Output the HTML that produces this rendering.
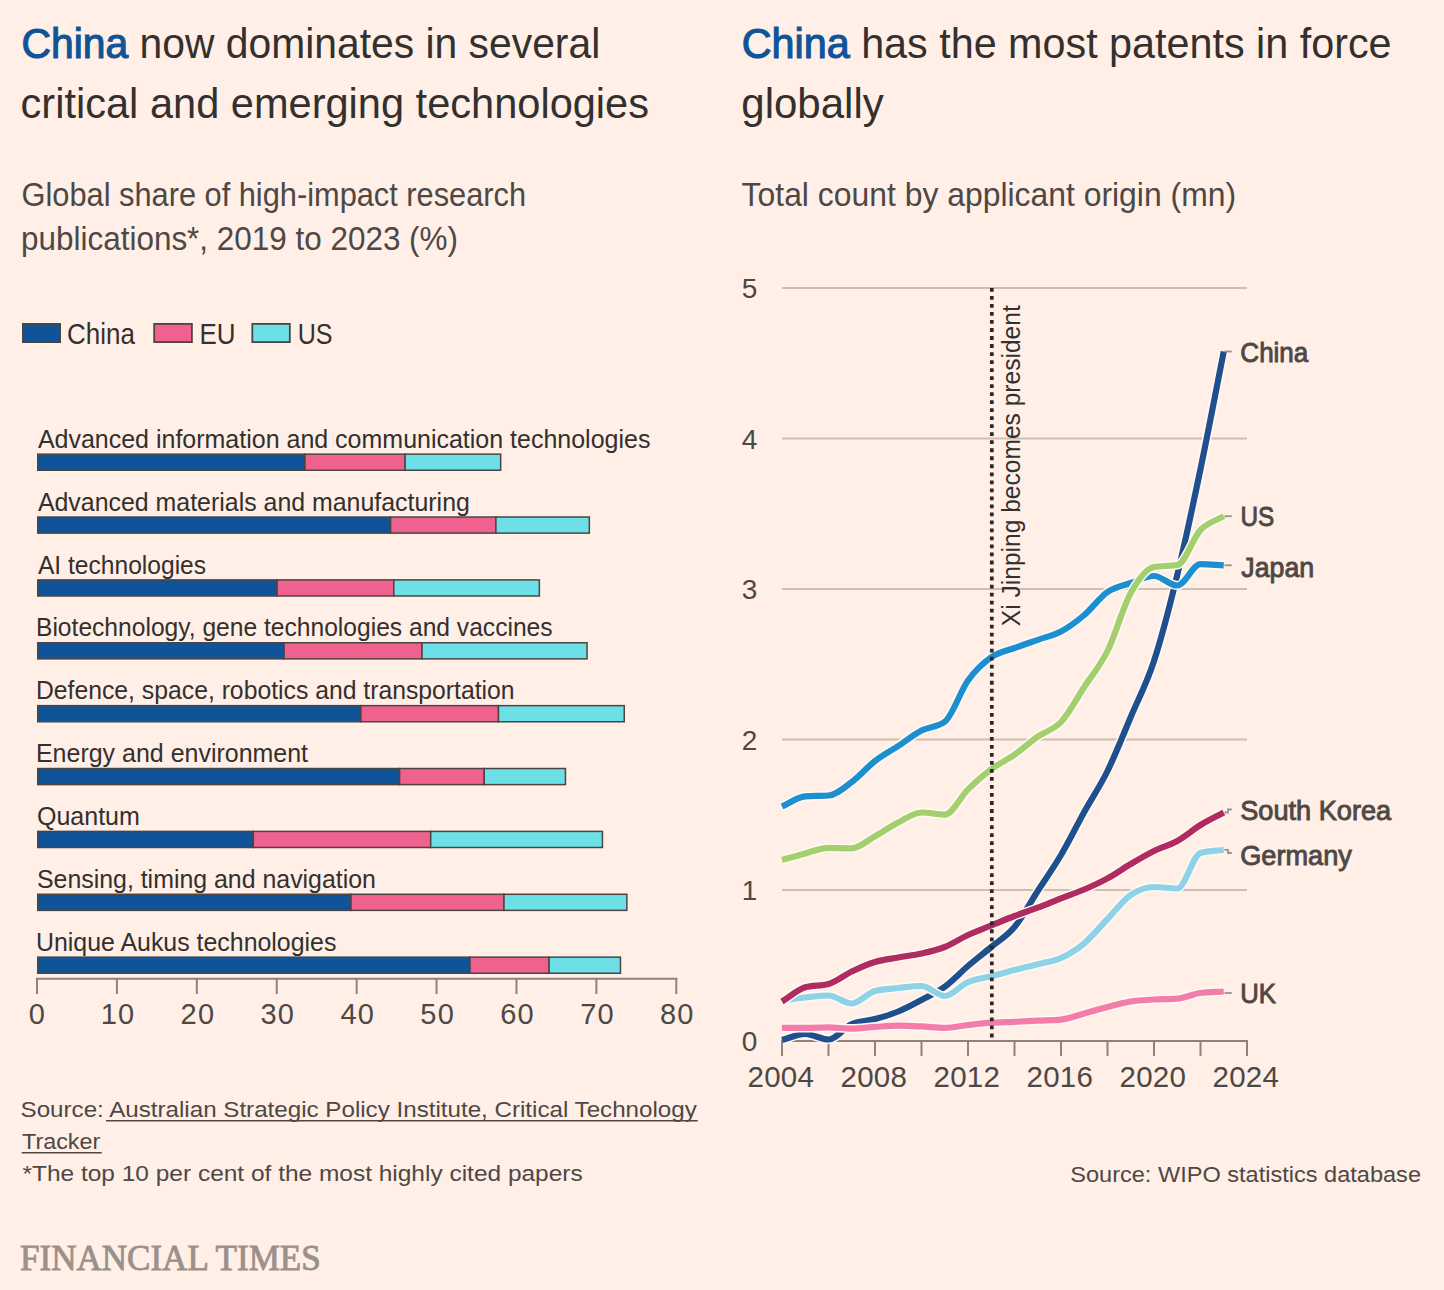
<!DOCTYPE html>
<html><head><meta charset="utf-8"><title>FT charts</title>
<style>html,body{margin:0;padding:0;background:#ffefe6;width:1444px;height:1290px;overflow:hidden}svg{display:block}</style>
</head><body>
<svg width="1444" height="1290" viewBox="0 0 1444 1290">
<rect width="1444" height="1290" fill="#ffefe6"/>
<text x="21.56" y="57.50" font-family='"Liberation Sans", sans-serif' font-size="43.4" font-weight="normal" textLength="578.67" lengthAdjust="spacingAndGlyphs" xml:space="preserve"><tspan fill="#0f5499" stroke="#0f5499" stroke-width="1.2">China</tspan><tspan fill="#33302e"> now dominates in several</tspan></text>
<text x="20.58" y="117.50" font-family='"Liberation Sans", sans-serif' font-size="43.4" font-weight="normal" textLength="628.43" lengthAdjust="spacingAndGlyphs" xml:space="preserve"><tspan fill="#33302e">critical and emerging technologies</tspan></text>
<text x="741.75" y="57.50" font-family='"Liberation Sans", sans-serif' font-size="43.4" font-weight="normal" textLength="649.77" lengthAdjust="spacingAndGlyphs" xml:space="preserve"><tspan fill="#0f5499" stroke="#0f5499" stroke-width="1.2">China</tspan><tspan fill="#33302e"> has the most patents in force</tspan></text>
<text x="741.26" y="117.50" font-family='"Liberation Sans", sans-serif' font-size="43.4" font-weight="normal" textLength="142.59" lengthAdjust="spacingAndGlyphs" xml:space="preserve"><tspan fill="#33302e">globally</tspan></text>
<text x="21.56" y="205.50" font-family='"Liberation Sans", sans-serif' font-size="32.6" font-weight="normal" textLength="504.51" lengthAdjust="spacingAndGlyphs" xml:space="preserve"><tspan fill="#4d4845">Global share of high-impact research</tspan></text>
<text x="21.07" y="249.50" font-family='"Liberation Sans", sans-serif' font-size="32.6" font-weight="normal" textLength="436.95" lengthAdjust="spacingAndGlyphs" xml:space="preserve"><tspan fill="#4d4845">publications*, 2019 to 2023 (%)</tspan></text>
<text x="741.62" y="205.50" font-family='"Liberation Sans", sans-serif' font-size="32.6" font-weight="normal" textLength="494.45" lengthAdjust="spacingAndGlyphs" xml:space="preserve"><tspan fill="#4d4845">Total count by applicant origin (mn)</tspan></text>
<rect x="22.90" y="323.90" width="37.20" height="18.20" fill="#0f5499" stroke="#4a4543" stroke-width="1.8"/>
<rect x="154.20" y="323.90" width="37.70" height="18.20" fill="#ef6290" stroke="#4a4543" stroke-width="1.8"/>
<rect x="252.30" y="323.90" width="37.50" height="18.20" fill="#6ddfe6" stroke="#4a4543" stroke-width="1.8"/>
<text x="67.11" y="343.70" font-family='"Liberation Sans", sans-serif' font-size="29" font-weight="normal" textLength="67.80" lengthAdjust="spacingAndGlyphs" xml:space="preserve"><tspan fill="#33302e">China</tspan></text>
<text x="199.51" y="343.70" font-family='"Liberation Sans", sans-serif' font-size="29" font-weight="normal" textLength="36.04" lengthAdjust="spacingAndGlyphs" xml:space="preserve"><tspan fill="#33302e">EU</tspan></text>
<text x="297.67" y="343.70" font-family='"Liberation Sans", sans-serif' font-size="29" font-weight="normal" textLength="34.85" lengthAdjust="spacingAndGlyphs" xml:space="preserve"><tspan fill="#33302e">US</tspan></text>
<text x="37.90" y="447.80" font-family='"Liberation Sans", sans-serif' font-size="25.8" font-weight="normal" textLength="612.49" lengthAdjust="spacingAndGlyphs" xml:space="preserve"><tspan fill="#33302e">Advanced information and communication technologies</tspan></text>
<text x="37.90" y="510.68" font-family='"Liberation Sans", sans-serif' font-size="25.8" font-weight="normal" textLength="431.96" lengthAdjust="spacingAndGlyphs" xml:space="preserve"><tspan fill="#33302e">Advanced materials and manufacturing</tspan></text>
<text x="37.90" y="573.55" font-family='"Liberation Sans", sans-serif' font-size="25.8" font-weight="normal" textLength="168.19" lengthAdjust="spacingAndGlyphs" xml:space="preserve"><tspan fill="#33302e">AI technologies</tspan></text>
<text x="35.99" y="636.42" font-family='"Liberation Sans", sans-serif' font-size="25.8" font-weight="normal" textLength="516.62" lengthAdjust="spacingAndGlyphs" xml:space="preserve"><tspan fill="#33302e">Biotechnology, gene technologies and vaccines</tspan></text>
<text x="35.98" y="699.30" font-family='"Liberation Sans", sans-serif' font-size="25.8" font-weight="normal" textLength="478.62" lengthAdjust="spacingAndGlyphs" xml:space="preserve"><tspan fill="#33302e">Defence, space, robotics and transportation</tspan></text>
<text x="35.96" y="762.17" font-family='"Liberation Sans", sans-serif' font-size="25.8" font-weight="normal" textLength="272.11" lengthAdjust="spacingAndGlyphs" xml:space="preserve"><tspan fill="#33302e">Energy and environment</tspan></text>
<text x="36.93" y="825.05" font-family='"Liberation Sans", sans-serif' font-size="25.8" font-weight="normal" textLength="102.96" lengthAdjust="spacingAndGlyphs" xml:space="preserve"><tspan fill="#33302e">Quantum</tspan></text>
<text x="36.94" y="887.92" font-family='"Liberation Sans", sans-serif' font-size="25.8" font-weight="normal" textLength="338.98" lengthAdjust="spacingAndGlyphs" xml:space="preserve"><tspan fill="#33302e">Sensing, timing and navigation</tspan></text>
<text x="35.97" y="950.80" font-family='"Liberation Sans", sans-serif' font-size="25.8" font-weight="normal" textLength="300.44" lengthAdjust="spacingAndGlyphs" xml:space="preserve"><tspan fill="#33302e">Unique Aukus technologies</tspan></text>
<rect x="37.75" y="454.15" width="267.25" height="16.10" fill="#0f5499" stroke="#4a4543" stroke-width="1.5"/>
<rect x="305.00" y="454.15" width="100.10" height="16.10" fill="#ef6290" stroke="#4a4543" stroke-width="1.5"/>
<rect x="405.10" y="454.15" width="95.55" height="16.10" fill="#6ddfe6" stroke="#4a4543" stroke-width="1.5"/>
<rect x="37.75" y="517.02" width="352.85" height="16.10" fill="#0f5499" stroke="#4a4543" stroke-width="1.5"/>
<rect x="390.60" y="517.02" width="105.30" height="16.10" fill="#ef6290" stroke="#4a4543" stroke-width="1.5"/>
<rect x="495.90" y="517.02" width="93.45" height="16.10" fill="#6ddfe6" stroke="#4a4543" stroke-width="1.5"/>
<rect x="37.75" y="579.90" width="239.35" height="16.10" fill="#0f5499" stroke="#4a4543" stroke-width="1.5"/>
<rect x="277.10" y="579.90" width="116.70" height="16.10" fill="#ef6290" stroke="#4a4543" stroke-width="1.5"/>
<rect x="393.80" y="579.90" width="145.55" height="16.10" fill="#6ddfe6" stroke="#4a4543" stroke-width="1.5"/>
<rect x="37.75" y="642.77" width="246.35" height="16.10" fill="#0f5499" stroke="#4a4543" stroke-width="1.5"/>
<rect x="284.10" y="642.77" width="137.90" height="16.10" fill="#ef6290" stroke="#4a4543" stroke-width="1.5"/>
<rect x="422.00" y="642.77" width="165.05" height="16.10" fill="#6ddfe6" stroke="#4a4543" stroke-width="1.5"/>
<rect x="37.75" y="705.65" width="323.15" height="16.10" fill="#0f5499" stroke="#4a4543" stroke-width="1.5"/>
<rect x="360.90" y="705.65" width="137.60" height="16.10" fill="#ef6290" stroke="#4a4543" stroke-width="1.5"/>
<rect x="498.50" y="705.65" width="125.75" height="16.10" fill="#6ddfe6" stroke="#4a4543" stroke-width="1.5"/>
<rect x="37.75" y="768.52" width="361.85" height="16.10" fill="#0f5499" stroke="#4a4543" stroke-width="1.5"/>
<rect x="399.60" y="768.52" width="84.60" height="16.10" fill="#ef6290" stroke="#4a4543" stroke-width="1.5"/>
<rect x="484.20" y="768.52" width="81.25" height="16.10" fill="#6ddfe6" stroke="#4a4543" stroke-width="1.5"/>
<rect x="37.75" y="831.40" width="215.55" height="16.10" fill="#0f5499" stroke="#4a4543" stroke-width="1.5"/>
<rect x="253.30" y="831.40" width="177.40" height="16.10" fill="#ef6290" stroke="#4a4543" stroke-width="1.5"/>
<rect x="430.70" y="831.40" width="171.75" height="16.10" fill="#6ddfe6" stroke="#4a4543" stroke-width="1.5"/>
<rect x="37.75" y="894.27" width="313.25" height="16.10" fill="#0f5499" stroke="#4a4543" stroke-width="1.5"/>
<rect x="351.00" y="894.27" width="153.00" height="16.10" fill="#ef6290" stroke="#4a4543" stroke-width="1.5"/>
<rect x="504.00" y="894.27" width="122.85" height="16.10" fill="#6ddfe6" stroke="#4a4543" stroke-width="1.5"/>
<rect x="37.75" y="957.15" width="432.25" height="16.10" fill="#0f5499" stroke="#4a4543" stroke-width="1.5"/>
<rect x="470.00" y="957.15" width="79.10" height="16.10" fill="#ef6290" stroke="#4a4543" stroke-width="1.5"/>
<rect x="549.10" y="957.15" width="71.35" height="16.10" fill="#6ddfe6" stroke="#4a4543" stroke-width="1.5"/>
<line x1="36" y1="978.8" x2="677.3" y2="978.8" stroke="#8f8278" stroke-width="2"/>
<line x1="37.00" y1="978" x2="37.00" y2="994" stroke="#8f8278" stroke-width="2"/>
<text x="37.50" y="1024.3" font-family='"Liberation Sans", sans-serif' font-size="29" letter-spacing="1.2" fill="#4d4845" text-anchor="middle">0</text>
<line x1="116.91" y1="978" x2="116.91" y2="994" stroke="#8f8278" stroke-width="2"/>
<text x="118.01" y="1024.3" font-family='"Liberation Sans", sans-serif' font-size="29" letter-spacing="1.2" fill="#4d4845" text-anchor="middle">10</text>
<line x1="196.82" y1="978" x2="196.82" y2="994" stroke="#8f8278" stroke-width="2"/>
<text x="197.92" y="1024.3" font-family='"Liberation Sans", sans-serif' font-size="29" letter-spacing="1.2" fill="#4d4845" text-anchor="middle">20</text>
<line x1="276.73" y1="978" x2="276.73" y2="994" stroke="#8f8278" stroke-width="2"/>
<text x="277.83" y="1024.3" font-family='"Liberation Sans", sans-serif' font-size="29" letter-spacing="1.2" fill="#4d4845" text-anchor="middle">30</text>
<line x1="356.64" y1="978" x2="356.64" y2="994" stroke="#8f8278" stroke-width="2"/>
<text x="357.74" y="1024.3" font-family='"Liberation Sans", sans-serif' font-size="29" letter-spacing="1.2" fill="#4d4845" text-anchor="middle">40</text>
<line x1="436.55" y1="978" x2="436.55" y2="994" stroke="#8f8278" stroke-width="2"/>
<text x="437.65" y="1024.3" font-family='"Liberation Sans", sans-serif' font-size="29" letter-spacing="1.2" fill="#4d4845" text-anchor="middle">50</text>
<line x1="516.46" y1="978" x2="516.46" y2="994" stroke="#8f8278" stroke-width="2"/>
<text x="517.56" y="1024.3" font-family='"Liberation Sans", sans-serif' font-size="29" letter-spacing="1.2" fill="#4d4845" text-anchor="middle">60</text>
<line x1="596.37" y1="978" x2="596.37" y2="994" stroke="#8f8278" stroke-width="2"/>
<text x="597.47" y="1024.3" font-family='"Liberation Sans", sans-serif' font-size="29" letter-spacing="1.2" fill="#4d4845" text-anchor="middle">70</text>
<line x1="676.28" y1="978" x2="676.28" y2="994" stroke="#8f8278" stroke-width="2"/>
<text x="677.38" y="1024.3" font-family='"Liberation Sans", sans-serif' font-size="29" letter-spacing="1.2" fill="#4d4845" text-anchor="middle">80</text>
<line x1="782" y1="288.0" x2="1247" y2="288.0" stroke="#cdbfb4" stroke-width="2"/>
<line x1="782" y1="438.5" x2="1247" y2="438.5" stroke="#cdbfb4" stroke-width="2"/>
<line x1="782" y1="589.0" x2="1247" y2="589.0" stroke="#cdbfb4" stroke-width="2"/>
<line x1="782" y1="739.5" x2="1247" y2="739.5" stroke="#cdbfb4" stroke-width="2"/>
<line x1="782" y1="890.0" x2="1247" y2="890.0" stroke="#cdbfb4" stroke-width="2"/>
<text x="741.8" y="298.3" font-family='"Liberation Sans", sans-serif' font-size="28" fill="#4d4845">5</text>
<text x="741.8" y="448.8" font-family='"Liberation Sans", sans-serif' font-size="28" fill="#4d4845">4</text>
<text x="741.8" y="599.3" font-family='"Liberation Sans", sans-serif' font-size="28" fill="#4d4845">3</text>
<text x="741.8" y="749.8" font-family='"Liberation Sans", sans-serif' font-size="28" fill="#4d4845">2</text>
<text x="741.8" y="900.3" font-family='"Liberation Sans", sans-serif' font-size="28" fill="#4d4845">1</text>
<text x="741.8" y="1051.3" font-family='"Liberation Sans", sans-serif' font-size="28" fill="#4d4845">0</text>
<line x1="781" y1="1041" x2="1248" y2="1041" stroke="#8f8278" stroke-width="2"/>
<line x1="782.00" y1="1040" x2="782.00" y2="1056" stroke="#8f8278" stroke-width="2"/>
<line x1="828.50" y1="1040" x2="828.50" y2="1056" stroke="#8f8278" stroke-width="2"/>
<line x1="875.00" y1="1040" x2="875.00" y2="1056" stroke="#8f8278" stroke-width="2"/>
<line x1="921.50" y1="1040" x2="921.50" y2="1056" stroke="#8f8278" stroke-width="2"/>
<line x1="968.00" y1="1040" x2="968.00" y2="1056" stroke="#8f8278" stroke-width="2"/>
<line x1="1014.50" y1="1040" x2="1014.50" y2="1056" stroke="#8f8278" stroke-width="2"/>
<line x1="1061.00" y1="1040" x2="1061.00" y2="1056" stroke="#8f8278" stroke-width="2"/>
<line x1="1107.50" y1="1040" x2="1107.50" y2="1056" stroke="#8f8278" stroke-width="2"/>
<line x1="1154.00" y1="1040" x2="1154.00" y2="1056" stroke="#8f8278" stroke-width="2"/>
<line x1="1200.50" y1="1040" x2="1200.50" y2="1056" stroke="#8f8278" stroke-width="2"/>
<line x1="1247.00" y1="1040" x2="1247.00" y2="1056" stroke="#8f8278" stroke-width="2"/>
<text x="780.80" y="1086.8" font-family='"Liberation Sans", sans-serif' font-size="29.5" letter-spacing="0.2" fill="#4d4845" text-anchor="middle">2004</text>
<text x="873.80" y="1086.8" font-family='"Liberation Sans", sans-serif' font-size="29.5" letter-spacing="0.2" fill="#4d4845" text-anchor="middle">2008</text>
<text x="966.80" y="1086.8" font-family='"Liberation Sans", sans-serif' font-size="29.5" letter-spacing="0.2" fill="#4d4845" text-anchor="middle">2012</text>
<text x="1059.80" y="1086.8" font-family='"Liberation Sans", sans-serif' font-size="29.5" letter-spacing="0.2" fill="#4d4845" text-anchor="middle">2016</text>
<text x="1152.80" y="1086.8" font-family='"Liberation Sans", sans-serif' font-size="29.5" letter-spacing="0.2" fill="#4d4845" text-anchor="middle">2020</text>
<text x="1245.80" y="1086.8" font-family='"Liberation Sans", sans-serif' font-size="29.5" letter-spacing="0.2" fill="#4d4845" text-anchor="middle">2024</text>
<path d="M782.00,1040.00C789.75,1038.00 797.50,1034.00 805.25,1034.00C813.00,1034.00 820.75,1039.50 828.50,1039.50C836.25,1039.50 844.00,1027.33 851.75,1024.00C859.50,1020.67 867.25,1021.08 875.00,1019.00C882.75,1016.92 890.50,1014.67 898.25,1011.50C906.00,1008.33 913.75,1004.13 921.50,1000.00C929.25,995.87 937.00,992.37 944.75,986.70C952.50,981.03 960.25,972.62 968.00,966.00C975.75,959.38 983.50,953.50 991.25,947.00C999.00,940.50 1006.75,936.33 1014.50,927.00C1022.25,917.67 1030.00,903.00 1037.75,891.00C1045.50,879.00 1053.25,868.17 1061.00,855.00C1068.75,841.83 1076.50,826.00 1084.25,812.00C1092.00,798.00 1099.75,786.83 1107.50,771.00C1115.25,755.17 1123.00,735.33 1130.75,717.00C1138.50,698.67 1146.25,684.67 1154.00,661.00C1161.75,637.33 1169.50,607.00 1177.25,575.00C1185.00,543.00 1192.75,506.25 1200.50,469.00C1208.25,431.75 1216.00,390.67 1223.75,351.50" fill="none" stroke="#fffaf4" stroke-width="9.2" stroke-linejoin="round"/>
<path d="M782.00,1040.00C789.75,1038.00 797.50,1034.00 805.25,1034.00C813.00,1034.00 820.75,1039.50 828.50,1039.50C836.25,1039.50 844.00,1027.33 851.75,1024.00C859.50,1020.67 867.25,1021.08 875.00,1019.00C882.75,1016.92 890.50,1014.67 898.25,1011.50C906.00,1008.33 913.75,1004.13 921.50,1000.00C929.25,995.87 937.00,992.37 944.75,986.70C952.50,981.03 960.25,972.62 968.00,966.00C975.75,959.38 983.50,953.50 991.25,947.00C999.00,940.50 1006.75,936.33 1014.50,927.00C1022.25,917.67 1030.00,903.00 1037.75,891.00C1045.50,879.00 1053.25,868.17 1061.00,855.00C1068.75,841.83 1076.50,826.00 1084.25,812.00C1092.00,798.00 1099.75,786.83 1107.50,771.00C1115.25,755.17 1123.00,735.33 1130.75,717.00C1138.50,698.67 1146.25,684.67 1154.00,661.00C1161.75,637.33 1169.50,607.00 1177.25,575.00C1185.00,543.00 1192.75,506.25 1200.50,469.00C1208.25,431.75 1216.00,390.67 1223.75,351.50" fill="none" stroke="#1f4f8c" stroke-width="6.2" stroke-linejoin="round"/>
<path d="M782.00,806.50C789.75,803.10 797.50,796.83 805.25,796.30C813.00,795.77 820.75,796.03 828.50,795.50C836.25,794.97 844.00,787.75 851.75,782.00C859.50,776.25 867.25,767.00 875.00,761.00C882.75,755.00 890.50,751.08 898.25,746.00C906.00,740.92 913.75,734.53 921.50,730.50C929.25,726.47 937.00,727.60 944.75,721.80C952.50,716.00 960.25,691.25 968.00,680.50C975.75,669.75 983.50,662.72 991.25,657.30C999.00,651.88 1006.75,650.92 1014.50,648.00C1022.25,645.08 1030.00,642.55 1037.75,639.80C1045.50,637.05 1053.25,635.63 1061.00,631.50C1068.75,627.37 1076.50,621.58 1084.25,615.00C1092.00,608.42 1099.75,597.33 1107.50,592.00C1115.25,586.67 1123.00,585.67 1130.75,583.00C1138.50,580.33 1146.25,576.00 1154.00,576.00C1161.75,576.00 1169.50,585.50 1177.25,585.50C1185.00,585.50 1192.75,564.20 1200.50,564.20C1208.25,564.20 1216.00,564.93 1223.75,565.30" fill="none" stroke="#fffaf4" stroke-width="9.2" stroke-linejoin="round"/>
<path d="M782.00,806.50C789.75,803.10 797.50,796.83 805.25,796.30C813.00,795.77 820.75,796.03 828.50,795.50C836.25,794.97 844.00,787.75 851.75,782.00C859.50,776.25 867.25,767.00 875.00,761.00C882.75,755.00 890.50,751.08 898.25,746.00C906.00,740.92 913.75,734.53 921.50,730.50C929.25,726.47 937.00,727.60 944.75,721.80C952.50,716.00 960.25,691.25 968.00,680.50C975.75,669.75 983.50,662.72 991.25,657.30C999.00,651.88 1006.75,650.92 1014.50,648.00C1022.25,645.08 1030.00,642.55 1037.75,639.80C1045.50,637.05 1053.25,635.63 1061.00,631.50C1068.75,627.37 1076.50,621.58 1084.25,615.00C1092.00,608.42 1099.75,597.33 1107.50,592.00C1115.25,586.67 1123.00,585.67 1130.75,583.00C1138.50,580.33 1146.25,576.00 1154.00,576.00C1161.75,576.00 1169.50,585.50 1177.25,585.50C1185.00,585.50 1192.75,564.20 1200.50,564.20C1208.25,564.20 1216.00,564.93 1223.75,565.30" fill="none" stroke="#1d8fd1" stroke-width="6.2" stroke-linejoin="round"/>
<path d="M782.00,860.00C789.75,857.80 797.50,855.43 805.25,853.40C813.00,851.37 820.75,847.80 828.50,847.80C836.25,847.80 844.00,848.30 851.75,848.30C859.50,848.30 867.25,840.50 875.00,836.20C882.75,831.90 890.50,826.45 898.25,822.50C906.00,818.55 913.75,812.50 921.50,812.50C929.25,812.50 937.00,814.60 944.75,814.60C952.50,814.60 960.25,796.97 968.00,789.40C975.75,781.83 983.50,774.98 991.25,769.20C999.00,763.42 1006.75,760.13 1014.50,754.70C1022.25,749.27 1030.00,742.05 1037.75,736.60C1045.50,731.15 1053.25,730.27 1061.00,722.00C1068.75,713.73 1076.50,698.83 1084.25,687.00C1092.00,675.17 1099.75,666.67 1107.50,651.00C1115.25,635.33 1123.00,607.00 1130.75,593.00C1138.50,579.00 1146.25,568.33 1154.00,567.00C1161.75,565.67 1169.50,566.33 1177.25,565.00C1185.00,563.67 1192.75,538.13 1200.50,530.00C1208.25,521.87 1216.00,520.80 1223.75,516.20" fill="none" stroke="#fffaf4" stroke-width="9.2" stroke-linejoin="round"/>
<path d="M782.00,860.00C789.75,857.80 797.50,855.43 805.25,853.40C813.00,851.37 820.75,847.80 828.50,847.80C836.25,847.80 844.00,848.30 851.75,848.30C859.50,848.30 867.25,840.50 875.00,836.20C882.75,831.90 890.50,826.45 898.25,822.50C906.00,818.55 913.75,812.50 921.50,812.50C929.25,812.50 937.00,814.60 944.75,814.60C952.50,814.60 960.25,796.97 968.00,789.40C975.75,781.83 983.50,774.98 991.25,769.20C999.00,763.42 1006.75,760.13 1014.50,754.70C1022.25,749.27 1030.00,742.05 1037.75,736.60C1045.50,731.15 1053.25,730.27 1061.00,722.00C1068.75,713.73 1076.50,698.83 1084.25,687.00C1092.00,675.17 1099.75,666.67 1107.50,651.00C1115.25,635.33 1123.00,607.00 1130.75,593.00C1138.50,579.00 1146.25,568.33 1154.00,567.00C1161.75,565.67 1169.50,566.33 1177.25,565.00C1185.00,563.67 1192.75,538.13 1200.50,530.00C1208.25,521.87 1216.00,520.80 1223.75,516.20" fill="none" stroke="#a4cf6e" stroke-width="6.2" stroke-linejoin="round"/>
<path d="M782.00,1000.50C789.75,999.50 797.50,998.33 805.25,997.50C813.00,996.67 820.75,995.50 828.50,995.50C836.25,995.50 844.00,1003.50 851.75,1003.50C859.50,1003.50 867.25,993.00 875.00,991.00C882.75,989.00 890.50,988.83 898.25,988.00C906.00,987.17 913.75,986.00 921.50,986.00C929.25,986.00 937.00,996.00 944.75,996.00C952.50,996.00 960.25,985.48 968.00,982.20C975.75,978.92 983.50,978.33 991.25,976.30C999.00,974.27 1006.75,972.02 1014.50,970.00C1022.25,967.98 1030.00,966.20 1037.75,964.20C1045.50,962.20 1053.25,961.48 1061.00,958.00C1068.75,954.52 1076.50,949.80 1084.25,943.30C1092.00,936.80 1099.75,927.05 1107.50,919.00C1115.25,910.95 1123.00,900.33 1130.75,895.00C1138.50,889.67 1146.25,887.00 1154.00,887.00C1161.75,887.00 1169.50,888.50 1177.25,888.50C1185.00,888.50 1192.75,855.13 1200.50,853.00C1208.25,850.87 1216.00,850.87 1223.75,849.80" fill="none" stroke="#fffaf4" stroke-width="9.2" stroke-linejoin="round"/>
<path d="M782.00,1000.50C789.75,999.50 797.50,998.33 805.25,997.50C813.00,996.67 820.75,995.50 828.50,995.50C836.25,995.50 844.00,1003.50 851.75,1003.50C859.50,1003.50 867.25,993.00 875.00,991.00C882.75,989.00 890.50,988.83 898.25,988.00C906.00,987.17 913.75,986.00 921.50,986.00C929.25,986.00 937.00,996.00 944.75,996.00C952.50,996.00 960.25,985.48 968.00,982.20C975.75,978.92 983.50,978.33 991.25,976.30C999.00,974.27 1006.75,972.02 1014.50,970.00C1022.25,967.98 1030.00,966.20 1037.75,964.20C1045.50,962.20 1053.25,961.48 1061.00,958.00C1068.75,954.52 1076.50,949.80 1084.25,943.30C1092.00,936.80 1099.75,927.05 1107.50,919.00C1115.25,910.95 1123.00,900.33 1130.75,895.00C1138.50,889.67 1146.25,887.00 1154.00,887.00C1161.75,887.00 1169.50,888.50 1177.25,888.50C1185.00,888.50 1192.75,855.13 1200.50,853.00C1208.25,850.87 1216.00,850.87 1223.75,849.80" fill="none" stroke="#8dd2e6" stroke-width="6.2" stroke-linejoin="round"/>
<path d="M782.00,1001.50C789.75,996.77 797.50,989.50 805.25,987.30C813.00,985.10 820.75,986.20 828.50,984.00C836.25,981.80 844.00,975.17 851.75,971.50C859.50,967.83 867.25,964.33 875.00,962.00C882.75,959.67 890.50,958.92 898.25,957.50C906.00,956.08 913.75,955.25 921.50,953.50C929.25,951.75 937.00,950.08 944.75,947.00C952.50,943.92 960.25,938.58 968.00,935.00C975.75,931.42 983.50,928.67 991.25,925.50C999.00,922.33 1006.75,918.97 1014.50,916.00C1022.25,913.03 1030.00,910.65 1037.75,907.70C1045.50,904.75 1053.25,901.33 1061.00,898.30C1068.75,895.27 1076.50,892.82 1084.25,889.50C1092.00,886.18 1099.75,882.65 1107.50,878.40C1115.25,874.15 1123.00,868.57 1130.75,864.00C1138.50,859.43 1146.25,854.83 1154.00,851.00C1161.75,847.17 1169.50,845.33 1177.25,841.00C1185.00,836.67 1192.75,829.75 1200.50,825.00C1208.25,820.25 1216.00,816.67 1223.75,812.50" fill="none" stroke="#fffaf4" stroke-width="9.2" stroke-linejoin="round"/>
<path d="M782.00,1001.50C789.75,996.77 797.50,989.50 805.25,987.30C813.00,985.10 820.75,986.20 828.50,984.00C836.25,981.80 844.00,975.17 851.75,971.50C859.50,967.83 867.25,964.33 875.00,962.00C882.75,959.67 890.50,958.92 898.25,957.50C906.00,956.08 913.75,955.25 921.50,953.50C929.25,951.75 937.00,950.08 944.75,947.00C952.50,943.92 960.25,938.58 968.00,935.00C975.75,931.42 983.50,928.67 991.25,925.50C999.00,922.33 1006.75,918.97 1014.50,916.00C1022.25,913.03 1030.00,910.65 1037.75,907.70C1045.50,904.75 1053.25,901.33 1061.00,898.30C1068.75,895.27 1076.50,892.82 1084.25,889.50C1092.00,886.18 1099.75,882.65 1107.50,878.40C1115.25,874.15 1123.00,868.57 1130.75,864.00C1138.50,859.43 1146.25,854.83 1154.00,851.00C1161.75,847.17 1169.50,845.33 1177.25,841.00C1185.00,836.67 1192.75,829.75 1200.50,825.00C1208.25,820.25 1216.00,816.67 1223.75,812.50" fill="none" stroke="#b02b5f" stroke-width="6.2" stroke-linejoin="round"/>
<path d="M782.00,1027.80C789.75,1027.80 797.50,1027.80 805.25,1027.80C813.00,1027.80 820.75,1027.30 828.50,1027.30C836.25,1027.30 844.00,1028.70 851.75,1028.70C859.50,1028.70 867.25,1027.42 875.00,1026.90C882.75,1026.38 890.50,1025.60 898.25,1025.60C906.00,1025.60 913.75,1026.02 921.50,1026.40C929.25,1026.78 937.00,1027.90 944.75,1027.90C952.50,1027.90 960.25,1025.87 968.00,1025.00C975.75,1024.13 983.50,1023.23 991.25,1022.70C999.00,1022.17 1006.75,1022.13 1014.50,1021.80C1022.25,1021.47 1030.00,1021.05 1037.75,1020.70C1045.50,1020.35 1053.25,1020.37 1061.00,1019.70C1068.75,1019.03 1076.50,1015.62 1084.25,1013.50C1092.00,1011.38 1099.75,1009.00 1107.50,1007.00C1115.25,1005.00 1123.00,1002.75 1130.75,1001.50C1138.50,1000.25 1146.25,999.98 1154.00,999.50C1161.75,999.02 1169.50,999.20 1177.25,998.60C1185.00,998.00 1192.75,994.00 1200.50,993.00C1208.25,992.00 1216.00,992.00 1223.75,991.50" fill="none" stroke="#fffaf4" stroke-width="9.2" stroke-linejoin="round"/>
<path d="M782.00,1027.80C789.75,1027.80 797.50,1027.80 805.25,1027.80C813.00,1027.80 820.75,1027.30 828.50,1027.30C836.25,1027.30 844.00,1028.70 851.75,1028.70C859.50,1028.70 867.25,1027.42 875.00,1026.90C882.75,1026.38 890.50,1025.60 898.25,1025.60C906.00,1025.60 913.75,1026.02 921.50,1026.40C929.25,1026.78 937.00,1027.90 944.75,1027.90C952.50,1027.90 960.25,1025.87 968.00,1025.00C975.75,1024.13 983.50,1023.23 991.25,1022.70C999.00,1022.17 1006.75,1022.13 1014.50,1021.80C1022.25,1021.47 1030.00,1021.05 1037.75,1020.70C1045.50,1020.35 1053.25,1020.37 1061.00,1019.70C1068.75,1019.03 1076.50,1015.62 1084.25,1013.50C1092.00,1011.38 1099.75,1009.00 1107.50,1007.00C1115.25,1005.00 1123.00,1002.75 1130.75,1001.50C1138.50,1000.25 1146.25,999.98 1154.00,999.50C1161.75,999.02 1169.50,999.20 1177.25,998.60C1185.00,998.00 1192.75,994.00 1200.50,993.00C1208.25,992.00 1216.00,992.00 1223.75,991.50" fill="none" stroke="#f47ca8" stroke-width="6.2" stroke-linejoin="round"/>
<path d="M1224.5,351.5 H1228 V351.5 H1231.8" fill="none" stroke="#9a938d" stroke-width="1.8"/>
<path d="M1224.5,516.2 H1228 V516.2 H1231.8" fill="none" stroke="#9a938d" stroke-width="1.8"/>
<path d="M1224.5,565.3 H1228 V565.3 H1231.8" fill="none" stroke="#9a938d" stroke-width="1.8"/>
<path d="M1224.5,812.5 H1228 V809.5 H1231.8" fill="none" stroke="#9a938d" stroke-width="1.8"/>
<path d="M1224.5,849.8 H1228 V853.0 H1231.8" fill="none" stroke="#9a938d" stroke-width="1.8"/>
<path d="M1224.5,993.0 H1228 V993.0 H1231.8" fill="none" stroke="#9a938d" stroke-width="1.8"/>
<line x1="991.8" y1="288" x2="991.8" y2="1041" stroke="#2b2826" stroke-width="3.7" stroke-dasharray="3.8 4.217"/>
<text transform="rotate(-90)" x="-626.13" y="1020.30" font-family='"Liberation Sans", sans-serif' font-size="26.4" font-weight="normal" textLength="320.90" lengthAdjust="spacingAndGlyphs" xml:space="preserve"><tspan fill="#33302e">Xi Jinping becomes president</tspan></text>
<text x="1240.35" y="361.60" font-family='"Liberation Sans", sans-serif' font-size="27.5" font-weight="normal" textLength="67.97" lengthAdjust="spacingAndGlyphs" xml:space="preserve"><tspan fill="#4d4845" stroke="#4d4845" stroke-width="0.9">China</tspan></text>
<text x="1240.42" y="526.20" font-family='"Liberation Sans", sans-serif' font-size="27.5" font-weight="normal" textLength="33.76" lengthAdjust="spacingAndGlyphs" xml:space="preserve"><tspan fill="#4d4845" stroke="#4d4845" stroke-width="0.9">US</tspan></text>
<text x="1241.30" y="576.60" font-family='"Liberation Sans", sans-serif' font-size="27.5" font-weight="normal" textLength="72.81" lengthAdjust="spacingAndGlyphs" xml:space="preserve"><tspan fill="#4d4845" stroke="#4d4845" stroke-width="0.9">Japan</tspan></text>
<text x="1240.21" y="819.80" font-family='"Liberation Sans", sans-serif' font-size="27.5" font-weight="normal" textLength="150.99" lengthAdjust="spacingAndGlyphs" xml:space="preserve"><tspan fill="#4d4845" stroke="#4d4845" stroke-width="0.9">South Korea</tspan></text>
<text x="1240.21" y="864.50" font-family='"Liberation Sans", sans-serif' font-size="27.5" font-weight="normal" textLength="111.69" lengthAdjust="spacingAndGlyphs" xml:space="preserve"><tspan fill="#4d4845" stroke="#4d4845" stroke-width="0.9">Germany</tspan></text>
<text x="1240.26" y="1003.30" font-family='"Liberation Sans", sans-serif' font-size="27.5" font-weight="normal" textLength="35.73" lengthAdjust="spacingAndGlyphs" xml:space="preserve"><tspan fill="#4d4845" stroke="#4d4845" stroke-width="0.9">UK</tspan></text>
<text x="20.54" y="1117.40" font-family='"Liberation Sans", sans-serif' font-size="22.9" font-weight="normal" textLength="676.27" lengthAdjust="spacingAndGlyphs" xml:space="preserve"><tspan fill="#4d4845">Source: Australian Strategic Policy Institute, Critical Technology</tspan></text>
<text x="22.00" y="1149.00" font-family='"Liberation Sans", sans-serif' font-size="22.9" font-weight="normal" textLength="78.23" lengthAdjust="spacingAndGlyphs" xml:space="preserve"><tspan fill="#4d4845">Tracker</tspan></text>
<text x="22.50" y="1181.40" font-family='"Liberation Sans", sans-serif' font-size="22.9" font-weight="normal" textLength="560.17" lengthAdjust="spacingAndGlyphs" xml:space="preserve"><tspan fill="#4d4845">*The top 10 per cent of the most highly cited papers</tspan></text>
<text x="1070.27" y="1181.50" font-family='"Liberation Sans", sans-serif' font-size="22.9" font-weight="normal" textLength="350.73" lengthAdjust="spacingAndGlyphs" xml:space="preserve"><tspan fill="#4d4845">Source: WIPO statistics database</tspan></text>
<text x="20.11" y="1269.90" font-family='"Liberation Serif", serif' font-size="35.2" font-weight="normal" textLength="300.52" lengthAdjust="spacingAndGlyphs" xml:space="preserve"><tspan fill="#9b918a" stroke="#9b918a" stroke-width="0.9">FINANCIAL TIMES</tspan></text>
<line x1="106" y1="1120.8" x2="697.7" y2="1120.8" stroke="#4d4845" stroke-width="1.6"/>
<line x1="21.7" y1="1152.8" x2="101.7" y2="1152.8" stroke="#4d4845" stroke-width="1.6"/>
</svg>
</body></html>
